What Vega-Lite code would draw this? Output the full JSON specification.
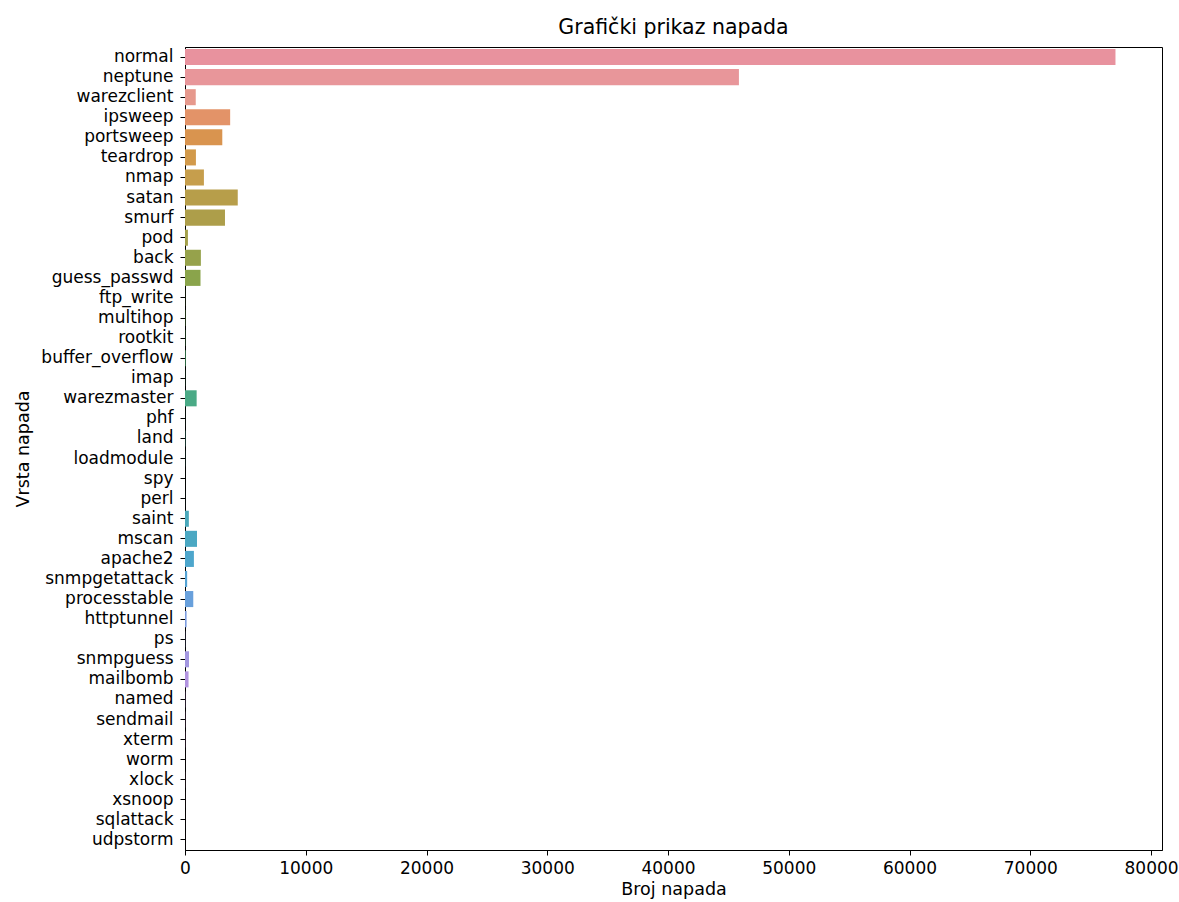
{
  "$schema": "https://vega.github.io/schema/vega-lite/v6.json",
  "width": 977,
  "height": 803,
  "autosize": {"type": "none"},
  "padding": {"left": 185, "top": 47, "right": 17, "bottom": 52},
  "background": "white",
  "title": {"text": "Grafički prikaz napada", "font": "DejaVu Sans", "fontSize": 20.5, "fontWeight": "normal", "color": "black", "anchor": "middle", "offset": 9},
  "data": {"values": [
    {"attack": "normal", "count": 77054, "color": "#e8929e"},
    {"attack": "neptune", "count": 45871, "color": "#e8969a"},
    {"attack": "warezclient", "count": 890, "color": "#e6998d"},
    {"attack": "ipsweep", "count": 3740, "color": "#e39368"},
    {"attack": "portsweep", "count": 3088, "color": "#d9944f"},
    {"attack": "teardrop", "count": 904, "color": "#d29a4b"},
    {"attack": "nmap", "count": 1566, "color": "#c69e4c"},
    {"attack": "satan", "count": 4368, "color": "#b79e4a"},
    {"attack": "smurf", "count": 3311, "color": "#ad9e4a"},
    {"attack": "pod", "count": 242, "color": "#a3a04a"},
    {"attack": "back", "count": 1315, "color": "#96a24b"},
    {"attack": "guess_passwd", "count": 1284, "color": "#8aa44b"},
    {"attack": "ftp_write", "count": 11, "color": "#7ca54e"},
    {"attack": "multihop", "count": 25, "color": "#6aa752"},
    {"attack": "rootkit", "count": 23, "color": "#55a95e"},
    {"attack": "buffer_overflow", "count": 50, "color": "#4caa6e"},
    {"attack": "imap", "count": 12, "color": "#4baa7b"},
    {"attack": "warezmaster", "count": 964, "color": "#4aaa86"},
    {"attack": "phf", "count": 6, "color": "#4aa990"},
    {"attack": "land", "count": 25, "color": "#4aa999"},
    {"attack": "loadmodule", "count": 11, "color": "#4aa9a2"},
    {"attack": "spy", "count": 2, "color": "#4aa9aa"},
    {"attack": "perl", "count": 5, "color": "#4aa9b2"},
    {"attack": "saint", "count": 319, "color": "#4aa8bb"},
    {"attack": "mscan", "count": 996, "color": "#4ba8c3"},
    {"attack": "apache2", "count": 737, "color": "#4da6cc"},
    {"attack": "snmpgetattack", "count": 178, "color": "#55a3d4"},
    {"attack": "processtable", "count": 685, "color": "#68a0dc"},
    {"attack": "httptunnel", "count": 133, "color": "#7d9ddf"},
    {"attack": "ps", "count": 15, "color": "#919ae0"},
    {"attack": "snmpguess", "count": 331, "color": "#a397e0"},
    {"attack": "mailbomb", "count": 293, "color": "#b294e0"},
    {"attack": "named", "count": 17, "color": "#c190df"},
    {"attack": "sendmail", "count": 14, "color": "#ce8cdc"},
    {"attack": "xterm", "count": 13, "color": "#da89d5"},
    {"attack": "worm", "count": 2, "color": "#e18bca"},
    {"attack": "xlock", "count": 9, "color": "#e48dbe"},
    {"attack": "xsnoop", "count": 4, "color": "#e68eb3"},
    {"attack": "sqlattack", "count": 2, "color": "#e78fab"},
    {"attack": "udpstorm", "count": 2, "color": "#e891a4"}
  ]},
  "mark": {"type": "bar"},
  "encoding": {
    "y": {
      "field": "attack", "type": "nominal", "sort": null,
      "scale": {"paddingInner": 0.2, "paddingOuter": 0.1},
      "axis": {"title": "Vrsta napada", "titleFont": "DejaVu Sans", "titleFontSize": 17.5, "titleFontWeight": "normal", "titleColor": "black", "titlePadding": 8,
               "labelFont": "DejaVu Sans", "labelFontSize": 17, "labelColor": "black", "labelPadding": 7,
               "tickSize": 5, "tickColor": "black", "domainColor": "black", "grid": false}
    },
    "x": {
      "field": "count", "type": "quantitative",
      "scale": {"domain": [0, 80907], "nice": false, "zero": true},
      "axis": {"title": "Broj napada", "titleFont": "DejaVu Sans", "titleFontSize": 17.5, "titleFontWeight": "normal", "titleColor": "black", "titlePadding": 4,
               "values": [0, 10000, 20000, 30000, 40000, 50000, 60000, 70000, 80000], "format": "d",
               "labelFont": "DejaVu Sans", "labelFontSize": 17, "labelColor": "black", "labelPadding": 5, "labelFlush": false,
               "tickSize": 5, "tickColor": "black", "domainColor": "black", "grid": false}
    },
    "color": {"field": "color", "type": "nominal", "scale": null, "legend": null}
  },
  "config": {"view": {"stroke": "black", "strokeWidth": 1}}
}
